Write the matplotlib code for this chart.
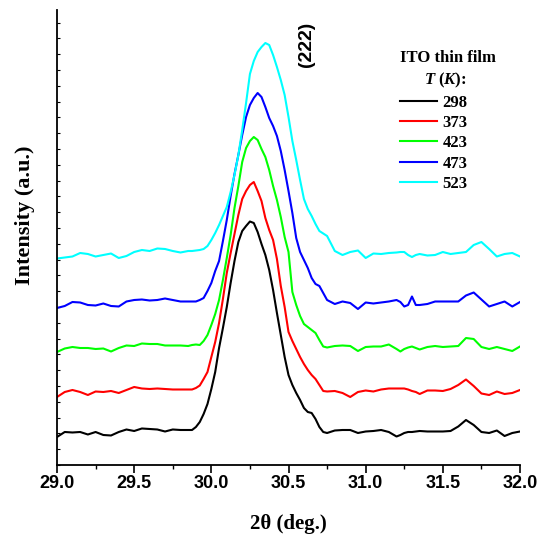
import matplotlib
matplotlib.use("Agg")
import matplotlib.pyplot as plt
from matplotlib.ticker import MultipleLocator

plt.rcParams['mathtext.fontset'] = 'custom'
plt.rcParams['mathtext.it'] = 'Liberation Serif:bold:italic'
plt.rcParams['mathtext.rm'] = 'Liberation Serif:bold'

# 2theta grid (deg.)
two_theta = [29.00, 29.05, 29.10, 29.15, 29.20, 29.25, 29.30, 29.35, 29.40, 29.45,
             29.50, 29.55, 29.60, 29.65, 29.70, 29.75, 29.80, 29.85,
             29.875, 29.90, 29.925, 29.95, 29.975, 30.00, 30.025, 30.05, 30.075, 30.10,
             30.125, 30.15, 30.175, 30.20, 30.225, 30.25, 30.275, 30.30, 30.325, 30.35,
             30.375, 30.40, 30.425, 30.45, 30.475, 30.50, 30.525, 30.55, 30.575, 30.60,
             30.625, 30.65, 30.675, 30.70, 30.725,
             30.75, 30.80, 30.85, 30.90, 30.95, 31.00, 31.05, 31.10, 31.15, 31.20,
             31.225, 31.25, 31.275, 31.30, 31.325, 31.35, 31.40, 31.45, 31.50, 31.55,
             31.60, 31.65, 31.70, 31.75, 31.80, 31.85, 31.90, 31.95, 32.00]

# intensities (a.u.), curves already stacked
i_298 = [28, 33, 32.5, 33, 30.5, 33, 30, 29.5, 33, 35.5, 34, 36.5, 36, 35.5, 33.5, 35.5, 35, 35,
         35, 38, 43, 51, 61, 76, 93, 117, 137, 158, 182, 204, 223, 234, 239, 243.5, 242, 233,
         221, 210, 195, 175, 152, 130, 108, 90, 80, 72, 65, 57, 53, 52, 46, 38, 33,
         32, 34.5, 35, 35, 32, 33.5, 34, 35, 33, 28.5, 30, 32, 33, 33, 33.5, 34, 33.5, 33.5,
         33.5, 34, 38.5, 45, 40, 33, 32, 34.5, 29, 32, 33.5]
i_373 = [68, 73, 75, 73, 70, 73.5, 73, 74, 72, 75, 78, 76.5, 76, 76.5, 76, 75.5, 75.5, 75.5,
         75.5, 77, 79.5, 86, 93, 108, 123, 142, 166, 192, 212, 231, 250, 266, 274, 280, 283, 274,
         264, 247, 235, 225, 206, 179, 158, 133, 124, 116, 108, 101, 95, 90, 86, 80, 74,
         73.5, 74, 72, 68, 73, 74.5, 73.5, 75.5, 76.5, 76.5, 76.5, 76.5, 75.5, 74, 73, 71, 74.5,
         74.5, 74, 76, 80, 85.5, 79, 71.5, 70, 73.5, 71, 72, 75]
i_423 = [113, 116.5, 118, 117, 117, 116, 116.5, 113.5, 117, 119.5, 119, 121.5, 121, 121, 119.5,
         119.5, 119.5, 119,
         120, 120.5, 120, 124, 130, 140, 151, 165, 185, 207, 230, 257, 279, 303, 317, 324, 328,
         325, 316, 308, 295, 279, 265, 248, 228, 213, 173, 160, 149, 141, 138, 135, 132, 125, 118.5,
         117.5, 119, 119.5, 119, 114, 118, 118.5, 118.5, 120.5, 116, 113.5, 116, 117.5, 118.5,
         117, 115.5, 118, 119, 118, 118.5, 119, 127, 126, 118, 116, 118, 116, 114, 118.5]
i_473 = [157, 159, 163, 162.5, 160, 159.5, 161.5, 159, 158.5, 163.5, 165, 165.5, 164.5, 165,
         166.5, 165, 163.5, 163.5,
         163.5, 163.5, 165, 167, 174, 182, 194, 204, 224, 245, 269, 291, 310, 330, 348, 360, 367,
         372, 368, 358, 347, 339, 329, 314, 295, 274, 252, 227, 213, 205, 197, 187, 181, 179, 172,
         165, 161, 163.5, 162, 156, 162.5, 161.5, 162.5, 163.5, 165, 163, 158.5, 160, 168.5, 160,
         160, 161, 163.5, 163.5, 163.5, 163.5, 169.5, 172.5, 165.5, 158.5, 161, 163.5, 158.5, 163]
i_523 = [206.5, 207.5, 208.5, 212, 211, 208.5, 210, 211.5, 207, 209, 213, 215, 214, 216.5, 216,
         214, 212.5, 214,
         214, 214.5, 215, 216, 219, 225, 232, 240, 249, 258, 273, 290, 310, 335, 362, 391, 404,
         413, 418, 422, 420, 410, 398, 385, 370, 348, 324, 305, 285, 266, 256, 249, 241, 234, 231.5,
         229, 214, 210, 213, 214.5, 207, 211.5, 211, 212, 212.5, 213, 213, 210, 208, 210, 211,
         209.5, 210, 213, 211, 212, 213, 220, 223, 216, 208.5, 211, 212, 208.5]

temps = ['298', '373', '423', '473', '523']
colors = ['black', '#ff0000', '#00ff00', '#0000ff', '#00ffff']

fig = plt.figure(figsize=(5.42, 5.38), dpi=100)
ax = fig.add_axes([0.1052, 0.1357, 0.8542, 0.8457])

for ys, t, c in zip([i_298, i_373, i_423, i_473, i_523], temps, colors):
    ax.plot(two_theta, ys, color=c, lw=1.5, label=t)

ax.set_xlim(29.0, 32.0)
ax.set_ylim(0, 455)
ax.spines['top'].set_visible(False)
ax.spines['right'].set_visible(False)
ax.spines['left'].set_linewidth(1.3)
ax.spines['bottom'].set_linewidth(1.3)

ax.xaxis.set_major_locator(MultipleLocator(0.5))
ax.xaxis.set_minor_locator(MultipleLocator(0.25))
ax.yaxis.set_major_locator(MultipleLocator(15.8))
ax.tick_params(axis='x', which='major', direction='out', length=6, width=1.2, pad=1)
ax.tick_params(axis='x', which='minor', direction='out', length=3, width=1.0)
ax.tick_params(axis='y', which='major', direction='in', length=2, width=0.8, labelleft=False)
ax.set_xticks([29.0, 29.5, 30.0, 30.5, 31.0, 31.5, 32.0])
ax.set_xticklabels(['29.0', '29.5', '30.0', '30.5', '31.0', '31.5', '32.0'],
                   fontfamily='Liberation Sans', fontweight='bold', fontsize=13)

ax.set_xlabel('2θ (deg.)', fontfamily='Liberation Serif', fontweight='bold',
              fontsize=15, labelpad=16)
ax.set_ylabel('Intensity (a.u.)', fontfamily='Liberation Serif', fontweight='bold',
              fontsize=16)
ax.yaxis.set_label_coords(-0.048, 0.55)

ax.text(30.617, 421, '(222)', rotation=90, ha='center', va='center',
        fontfamily='Liberation Sans', fontweight='bold', fontsize=14)

ax.text(0.741, 0.8945, 'ITO thin film', transform=ax.transAxes, ha='left', va='center',
        fontfamily='Liberation Serif', fontweight='bold', fontsize=12)
ax.text(0.7927, 0.846, '$T$ ($K$):', transform=ax.transAxes, ha='left', va='center',
        fontfamily='Liberation Serif', fontweight='bold', fontsize=12)

ax.legend(loc='upper left', bbox_to_anchor=(0.741, 0.814), frameon=False,
          prop={'family': 'Liberation Serif', 'weight': 'bold', 'size': 12},
          handlelength=2.2, handletextpad=0.35, labelspacing=0.26, borderpad=0,
          borderaxespad=0)

fig.savefig('out.png', dpi=100)
